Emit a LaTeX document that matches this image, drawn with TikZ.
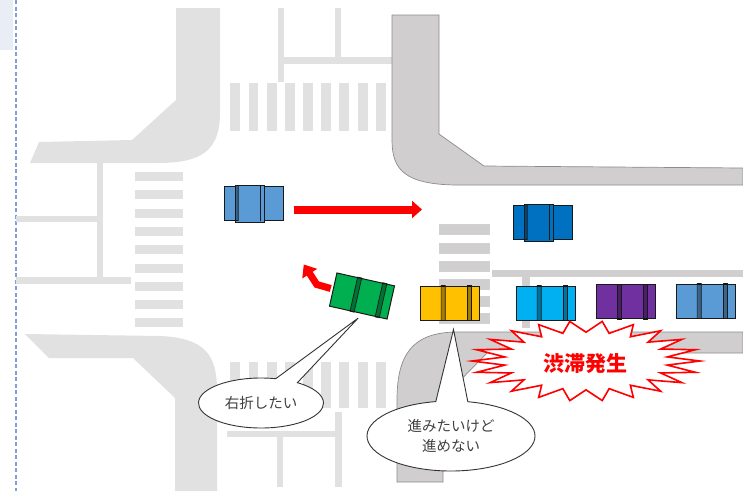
\documentclass[tikz,border=0pt]{standalone}
\usepackage{fontspec}
\usepackage{xcolor}
\usetikzlibrary{shapes,shapes.callouts,positioning,calc,arrows.meta}
\newfontfamily\jpfont{Noto Sans CJK JP}

\definecolor{roadgray}{HTML}{E1E1E1}
\definecolor{curbgray}{HTML}{D0CECE}
\definecolor{curbline}{HTML}{8C8C8C}
\definecolor{carblue}{HTML}{5B9BD5}
\definecolor{cardark}{HTML}{0070C0}
\definecolor{carcyan}{HTML}{00B0F0}
\definecolor{carpurple}{HTML}{7030A0}
\definecolor{caryellow}{HTML}{FFC000}
\definecolor{cargreen}{HTML}{00B050}
\definecolor{textgray}{HTML}{404040}
\definecolor{marginblue}{HTML}{7F9FD6}
\definecolor{marginfill}{HTML}{E9EDF5}

% one pillar strip across a car, between two fractions of its length
\newcommand{\carpillar}[3]{%
  \draw[pillar] ($(#1.north west)!#2!(#1.north east)$) -- ($(#1.north west)!#3!(#1.north east)$)
    -- ($(#1.south west)!#3!(#1.south east)$) -- ($(#1.south west)!#2!(#1.south east)$) -- cycle;}
% cabin of the cars seen from the other side
\newcommand{\carcabin}[2]{%
  \filldraw[cabin, fill=#2] ($(#1.north west)!0.2!(#1.north east)$) rectangle ($(#1.south west)!0.68!(#1.south east)+(0,2)$);
  \carpillar{#1}{0.2}{0.245}
  \draw[cabin, line width=0.8pt] ($(#1.north west)!0.62!(#1.north east)$) -- ($(#1.south west)!0.62!(#1.south east)$);}

\begin{document}
\begin{tikzpicture}[x=1pt, y=-1pt,
    paint/.style={fill=roadgray},
    curb/.style={fill=curbgray, draw=curbline, line width=0.7pt},
    stripe/.style={fill=curbgray, draw=black!18, line width=0.5pt},
    car/.style={rectangle, draw=black!90, line width=1pt, minimum width=59pt, minimum height=34pt, inner sep=0pt},
    pillar/.style={draw=black!90, line width=0.7pt, fill=black, fill opacity=0.35},
    cabin/.style={draw=black!90, line width=1.3pt},
    redarrow/.style={draw=red, line width=8pt, -{Triangle[length=10pt,width=17pt]}},
    turnarrow/.style={draw=red, line width=7pt, -{Triangle[length=11pt,width=17pt]}},
    bubble/.style={ellipse callout, draw=black!80, fill=white, line width=0.9pt, callout pointer arc=22, align=center, inner sep=0pt, text=textgray, font=\jpfont\fontsize{14.5}{20}\selectfont},
    burst/.style={draw=red, line width=1.6pt, fill=white, line join=miter}
]
\useasboundingbox (0,0) rectangle (743,491);

% page margin
\fill[marginfill] (0,0) rectangle (13,50);
\draw[marginblue, line width=1.4pt, dash pattern=on 4pt off 2.5pt] (16,0) -- (16,491);

% left and top road marks
\fill[paint] (176,8) -- (220,8) -- (220,113) .. controls (220,152) and (200,163) .. (157,163)
    -- (30,163) -- (39,142) -- (132,140) -- (176,100) -- cycle;
\fill[paint] (25,334) -- (160,336) .. controls (205,338) and (217,355) .. (217,390)
    -- (217,491) -- (175,491) -- (175,398) -- (133,358) -- (49,358) -- cycle;
\fill[paint] (97,163) rectangle (103,277);
\fill[paint] (16,216) rectangle (100,222);
\fill[paint] (16,277) rectangle (131,284);
\fill[paint] (278,8) rectangle (284,82);
\fill[paint] (335,8) rectangle (341,57);
\fill[paint] (281,57) rectangle (392,64);
\fill[paint] (227,431) rectangle (337,437);
\fill[paint] (277,437) rectangle (283,487);
\fill[paint] (335,412) rectangle (342,487);
\foreach \y in {172,190.3,208.6,226.9,245.2,263.5,281.8,300.1,318.4}
    \fill[paint] (135,\y) rectangle ++(48,9);
\foreach \x in {230,248.5,267,285,303,321,339,358,376} {
    \fill[paint] (\x,83) rectangle ++(9.5,48);
    \fill[paint] (\x,362) rectangle ++(9.5,46);
}

% right side curbs
\filldraw[curb] (392,15) -- (439,15) -- (439,134) -- (484,166) -- (743,168) -- (743,185)
    -- (455,185) .. controls (405,184) and (392,170) .. (392,140) -- cycle;
\filldraw[curb] (743,332) -- (455,332) .. controls (412,333) and (397,355) .. (397,400)
    -- (397,482) -- (443,482) -- (443,398) -- (487,353) -- (743,353) -- cycle;
\foreach \y in {224,243,261,279,296,313}
    \filldraw[stripe] (439,\y) rectangle ++(50,10);
\filldraw[stripe] (492,270) rectangle (743,276);
\filldraw[stripe] (522,276) rectangle (529,327);

% cars
\node[car, fill=carblue] (bluecar) at (253.5,203) {};
\node[car, fill=cardark] (darkcar) at (542.5,222) {};
\node[car, fill=cargreen, rotate=-12.6] (greencar) at (362,296) {};
\node[car, fill=caryellow] (yellowcar) at (449.5,303) {};
\node[car, fill=carcyan] (cyancar) at (545.5,303) {};
\node[car, fill=carpurple] (purplecar) at (625.5,301.5) {};
\node[car, fill=carblue] (lastcar) at (705.5,301) {};
\carcabin{bluecar}{carblue}
\carcabin{darkcar}{cardark}
\foreach \carname in {greencar,yellowcar,cyancar,purplecar,lastcar} {
    \carpillar{\carname}{0.36}{0.43}
    \carpillar{\carname}{0.79}{0.86}
}

% moves
\coordinate (goal) at (422,209.5);
\draw[redarrow] ([shift={(10,6.5)}]bluecar.east) -- (goal);
\draw[turnarrow] ([shift={(-2,-1)}]greencar.west) -- ++(-14,-4) -- ++(-13,-20);

% speech bubbles
\node[bubble, minimum width=125pt, minimum height=50pt,
    callout absolute pointer={($(greencar.south)+(0,5)$)}] (turn) at (261,403) {右折したい};
\node[bubble, minimum width=168pt, minimum height=70pt,
    callout absolute pointer={($(yellowcar.south)+(4,9)$)}] (stuck) at (451,436) {進みたいけど\\進めない};

% traffic jam
\coordinate (burstc) at (586,361);
\draw[burst] ($(burstc)+(0:114 and 40)$)
    \foreach \i [evaluate=\i as \r using {mod(\i,2)==0 ? 1 : 0.72}] in {1,...,43} {
        -- ($(burstc)+({\i*360/44}:{114*\r} and {40*\r})$) } -- cycle;
\node[text=red, font=\jpfont\bfseries\fontsize{21}{25}\selectfont] (jam) at (585,364) {渋滞発生};

\end{tikzpicture}
\end{document}
